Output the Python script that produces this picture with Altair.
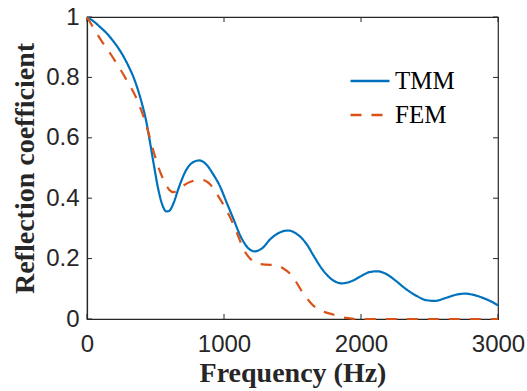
import altair as alt
import pandas as pd

# ---- data ----
tmm_f = [0, 50, 100, 150, 200, 250, 300, 350, 400, 430, 460, 490, 520, 550, 580, 600,
         630, 670, 720, 770, 820, 870, 920, 970, 1020, 1070, 1120, 1170, 1225, 1280,
         1340, 1400, 1468, 1530, 1600, 1660, 1720, 1790, 1860, 1930, 2000, 2060, 2120,
         2180, 2250, 2320, 2400, 2480, 2540, 2620, 2700, 2760, 2820, 2900, 2950, 3000]
tmm_v = [1.000, 0.985, 0.965, 0.943, 0.915, 0.882, 0.840, 0.788, 0.715, 0.660, 0.585,
         0.505, 0.430, 0.378, 0.356, 0.358, 0.382, 0.435, 0.490, 0.518, 0.525, 0.512,
         0.480, 0.440, 0.385, 0.330, 0.275, 0.238, 0.224, 0.235, 0.265, 0.285, 0.293,
         0.282, 0.250, 0.205, 0.163, 0.130, 0.118, 0.125, 0.142, 0.155, 0.158, 0.150,
         0.128, 0.102, 0.078, 0.062, 0.060, 0.070, 0.081, 0.084, 0.080, 0.068, 0.058,
         0.045]

fem_f = [0, 50, 100, 176, 274, 371, 432, 493, 540, 566, 600, 630, 670, 712, 760, 810,
         850, 900, 944, 1000, 1042, 1090, 1139, 1190, 1237, 1300, 1383, 1430, 1481,
         1530, 1578, 1630, 1676, 1740, 1797, 1860, 1920, 1960, 2500, 3000]
fem_v = [1.000, 0.962, 0.925, 0.875, 0.803, 0.720, 0.643, 0.544, 0.480, 0.455, 0.428,
         0.420, 0.428, 0.444, 0.455, 0.461, 0.460, 0.445, 0.417, 0.375, 0.339, 0.290,
         0.235, 0.200, 0.185, 0.180, 0.179, 0.168, 0.151, 0.120, 0.085, 0.055, 0.035,
         0.022, 0.015, 0.006, 0.002, 0.000, 0.000, 0.000]

series_names = ["TMM", "FEM"]
series_colors = ["#0072BD", "#D95319"]
x_ticks = [0, 1000, 2000, 3000]
y_ticks = [0, 0.2, 0.4, 0.6, 0.8, 1.0]

W, H = 411, 302
AX = "#262626"
SERIF = "Liberation Serif"
LEGEND_FONT = "Times New Roman"
SANS = "Liberation Sans"

df = pd.concat([
    pd.DataFrame({"f": tmm_f, "v": tmm_v, "s": "TMM", "o": range(len(tmm_f))}),
    pd.DataFrame({"f": fem_f, "v": fem_v, "s": "FEM", "o": range(len(fem_f))}),
])

xscale = alt.Scale(domain=[0, 3000], nice=False, zero=False)
yscale = alt.Scale(domain=[0, 1], nice=False, zero=False)

legend_opts = dict(title=None, orient="none", legendX=262, legendY=43,
                   symbolType="stroke", symbolSize=1521, symbolStrokeWidth=2.5,
                   labelFont=LEGEND_FONT, labelFontSize=25, labelFontWeight="normal",
                   labelColor="black", labelOffset=4, rowPadding=0, padding=0)

lines = alt.Chart(df).mark_line(strokeWidth=2.2, interpolate="monotone").encode(
    x=alt.X("f:Q", scale=xscale,
            axis=alt.Axis(values=x_ticks, format="d", title="Frequency (Hz)",
                          grid=False, ticks=False, tickSize=0, labelFlush=False,
                          labelOverlap=False,
                          labelFont=SANS, labelFontSize=24, labelColor=AX,
                          labelPadding=13, domainColor=AX, domainWidth=1.2,
                          titleFont=SERIF, titleFontSize=28, titleFontWeight="bold",
                          titleColor=AX, titleBaseline="alphabetic", titleY=62)),
    y=alt.Y("v:Q", scale=yscale,
            axis=alt.Axis(values=y_ticks, format=".1~f", title="Reflection coefficient",
                          grid=False, ticks=False, tickSize=0, labelFlush=False,
                          labelOverlap=False,
                          labelFont=SANS, labelFontSize=24, labelColor=AX,
                          labelPadding=8, domainColor=AX, domainWidth=1.2,
                          titleFont=SERIF, titleFontSize=28, titleFontWeight="bold",
                          titleColor=AX, titleBaseline="alphabetic", titleX=-54,
                          titleAngle=270)),
    color=alt.Color("s:N", scale=alt.Scale(domain=series_names, range=series_colors),
                    legend=alt.Legend(**legend_opts)),
    strokeDash=alt.StrokeDash("s:N", scale=alt.Scale(domain=series_names,
                                                     range=[[1, 0], [11, 10]]),
                              legend=alt.Legend(**legend_opts)),
    order="o:Q",
)

xt = pd.DataFrame({"t": x_ticks})
yt = pd.DataFrame({"t": y_ticks})
xb = alt.Chart(xt).mark_rule(color=AX, strokeWidth=1).encode(
    x=alt.X("t:Q", scale=xscale), y=alt.value(H), y2=alt.value(H - 5))
xtop = alt.Chart(xt).mark_rule(color=AX, strokeWidth=1).encode(
    x=alt.X("t:Q", scale=xscale), y=alt.value(0), y2=alt.value(5))
yl = alt.Chart(yt).mark_rule(color=AX, strokeWidth=1).encode(
    y=alt.Y("t:Q", scale=yscale), x=alt.value(0), x2=alt.value(5))
yr = alt.Chart(yt).mark_rule(color=AX, strokeWidth=1).encode(
    y=alt.Y("t:Q", scale=yscale), x=alt.value(W), x2=alt.value(W - 5))

chart = alt.layer(xb, xtop, yl, yr, lines).properties(
    width=W, height=H, autosize="none", background="white",
    padding={"left": 87, "top": 17, "right": 29, "bottom": 72},
).configure_view(stroke=AX, strokeWidth=1.2).configure_legend(
    labelFont=LEGEND_FONT, labelFontSize=25, labelColor="black")

chart.save("out.html", embed_options={"renderer": "svg", "actions": False})
